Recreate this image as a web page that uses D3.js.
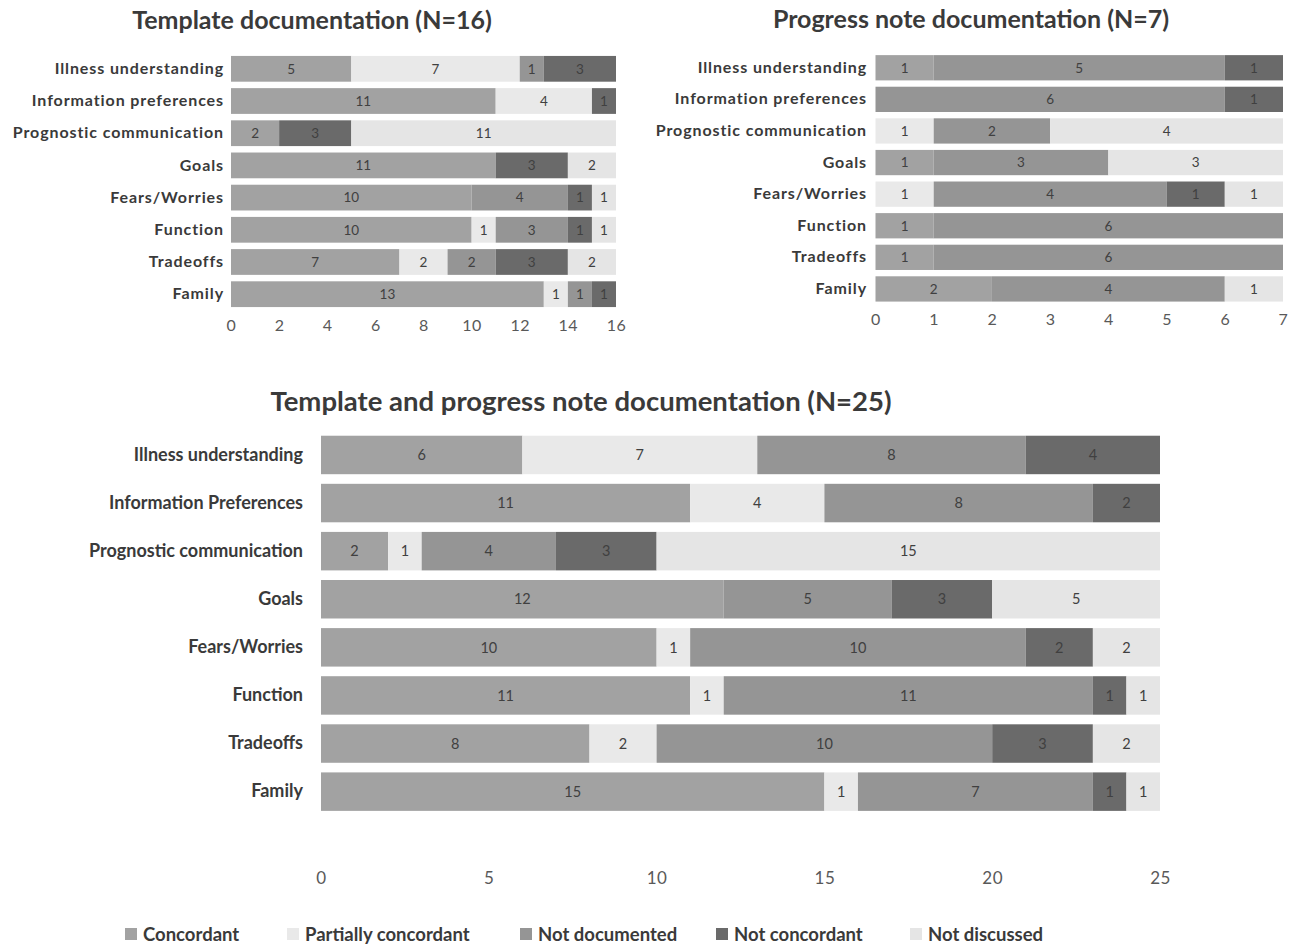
<!DOCTYPE html>
<html>
<head>
<meta charset="utf-8">
<script src="https://cdn.jsdelivr.net/npm/d3@7"></script>
<style>
  html, body { margin: 0; padding: 0; background: #fff; }
  svg { display: block; font-family: Lato, "Open Sans", sans-serif; }
</style>
</head>
<body>
<svg id="chart" width="1297" height="947"></svg>
<script>
// Response categories (stack order, left to right)
const seriesNames = ["Concordant", "Partially concordant", "Not documented", "Not concordant", "Not discussed"];
const seriesColors = ["#a2a2a2", "#e9e9e9", "#959595", "#6a6a6a", "#e5e5e5"];

// Topics shown in the two upper panels
const topicsTop = ["Illness understanding", "Information preferences", "Prognostic communication",
  "Goals", "Fears/Worries", "Function", "Tradeoffs", "Family"];
// Topics shown in the combined panel
const topicsAll = ["Illness understanding", "Information Preferences", "Prognostic communication",
  "Goals", "Fears/Worries", "Function", "Tradeoffs", "Family"];

// Counts per topic: [Concordant, Partially concordant, Not documented, Not concordant, Not discussed]
const templateCounts = [
  [5, 7, 1, 3, 0],
  [11, 4, 0, 1, 0],
  [2, 0, 0, 3, 11],
  [11, 0, 0, 3, 2],
  [10, 0, 4, 1, 1],
  [10, 1, 3, 1, 1],
  [7, 2, 2, 3, 2],
  [13, 1, 1, 1, 0]
];
const progressCounts = [
  [1, 0, 5, 1, 0],
  [0, 0, 6, 1, 0],
  [0, 1, 2, 0, 4],
  [1, 0, 3, 0, 3],
  [0, 1, 4, 1, 1],
  [1, 0, 6, 0, 0],
  [1, 0, 6, 0, 0],
  [2, 0, 4, 0, 1]
];
const combinedCounts = [
  [6, 7, 8, 4, 0],
  [11, 4, 8, 2, 0],
  [2, 1, 4, 3, 15],
  [12, 0, 5, 3, 5],
  [10, 1, 10, 2, 2],
  [11, 1, 11, 1, 1],
  [8, 2, 10, 3, 2],
  [15, 1, 7, 1, 1]
];

const templateTicks = [0, 2, 4, 6, 8, 10, 12, 14, 16];
const progressTicks = [0, 1, 2, 3, 4, 5, 6, 7];
const combinedTicks = [0, 5, 10, 15, 20, 25];

const svg = d3.select("#chart");

function drawPanel(opt) {
  const g = svg.append("g");
  const x = d3.scaleLinear().domain([0, opt.max]).range([opt.x0, opt.x1]);
  const y = d3.scaleBand().domain(opt.topics).range([opt.y0, opt.y1]).padding(0.2);

  // stacked segments
  const rows = opt.topics.map((t, i) => {
    const o = { topic: t };
    seriesNames.forEach((s, j) => o[s] = opt.counts[i][j]);
    return o;
  });
  const stacked = d3.stack().keys(seriesNames)(rows);

  const layer = g.selectAll("g.layer").data(stacked).join("g")
    .attr("fill", (d, i) => seriesColors[i]);
  layer.selectAll("rect").data(d => d.map(p => ({ p, key: d.key })))
    .join("rect")
    .attr("x", d => x(d.p[0]))
    .attr("y", d => y(d.p.data.topic))
    .attr("width", d => x(d.p[1]) - x(d.p[0]))
    .attr("height", y.bandwidth());

  // value labels
  layer.selectAll("text").data(d => d.filter(p => p[1] - p[0] > 0))
    .join("text")
    .attr("x", p => (x(p[0]) + x(p[1])) / 2)
    .attr("y", p => y(p.data.topic) + y.bandwidth() / 2)
    .attr("dy", "0.36em")
    .attr("text-anchor", "middle")
    .attr("fill", "#404040")
    .style("font-size", opt.valueSize + "px")
    .text(p => p[1] - p[0]);

  // category labels
  const yAxis = d3.axisLeft(y).tickSize(0).tickPadding(0);
  const ya = g.append("g").attr("transform", `translate(${opt.labelX},0)`).call(yAxis);
  ya.select(".domain").remove();
  ya.selectAll("text")
    .attr("fill", "#3a3a3a")
    .style("font-family", "Lato, sans-serif")
    .style("font-weight", "bold")
    .style("letter-spacing", opt.labelSpacing + "px")
    .style("font-size", opt.labelSize + "px");

  // numeric axis
  const xAxis = d3.axisBottom(x).tickValues(opt.ticks).tickFormat(d3.format("d"))
    .tickSize(0).tickPadding(0);
  const xa = g.append("g").attr("transform", `translate(0,${opt.tickY})`).call(xAxis);
  xa.select(".domain").remove();
  xa.selectAll("text")
    .attr("dy", "0.36em").attr("y", 0)
    .attr("fill", "#595959")
    .style("font-family", "Lato, sans-serif")
    .style("letter-spacing", "0.5px")
    .style("font-size", opt.tickSize + "px");

  // title
  g.append("text")
    .attr("x", opt.titleX).attr("y", opt.titleY)
    .attr("dy", "0.36em")
    .attr("text-anchor", "middle")
    .attr("fill", "#3a3a3a")
    .style("font-weight", "bold")
    .style("font-size", opt.titleSize + "px")
    .text(opt.title);
}

drawPanel({
  title: "Template documentation (N=16)", titleX: 312, titleY: 20, titleSize: 25,
  topics: topicsTop, counts: templateCounts, max: 16, ticks: templateTicks,
  x0: 231, x1: 616, y0: 49.5, y1: 313.5, labelX: 224, tickY: 325,
  labelSize: 16, labelSpacing: 0.9, valueSize: 13.5, tickSize: 16
});

drawPanel({
  title: "Progress note documentation (N=7)", titleX: 971, titleY: 19, titleSize: 25,
  topics: topicsTop, counts: progressCounts, max: 7, ticks: progressTicks,
  x0: 875.5, x1: 1283, y0: 48.8, y1: 307.9, labelX: 867, tickY: 319,
  labelSize: 16, labelSpacing: 0.9, valueSize: 13.5, tickSize: 16
});

drawPanel({
  title: "Template and progress note documentation (N=25)", titleX: 581, titleY: 401, titleSize: 27.5,
  topics: topicsAll, counts: combinedCounts, max: 25, ticks: combinedTicks,
  x0: 321, x1: 1160, y0: 426.1, y1: 820.5, labelX: 303, tickY: 878,
  labelSize: 18, labelSpacing: 0, valueSize: 14.5, tickSize: 17
});

// legend
const legendX = [125, 287, 520, 716, 910];
const legend = svg.append("g").selectAll("g").data(seriesNames).join("g")
  .attr("transform", (d, i) => `translate(${legendX[i]},934)`);
legend.append("rect")
  .attr("x", 0).attr("y", -6).attr("width", 12).attr("height", 12)
  .attr("fill", (d, i) => seriesColors[i]);
legend.append("text")
  .attr("x", 18).attr("y", 0).attr("dy", "0.36em")
  .attr("fill", "#3a3a3a")
  .style("font-weight", "bold")
  .style("font-size", "18.5px")
  .text(d => d);
</script>
</body>
</html>
